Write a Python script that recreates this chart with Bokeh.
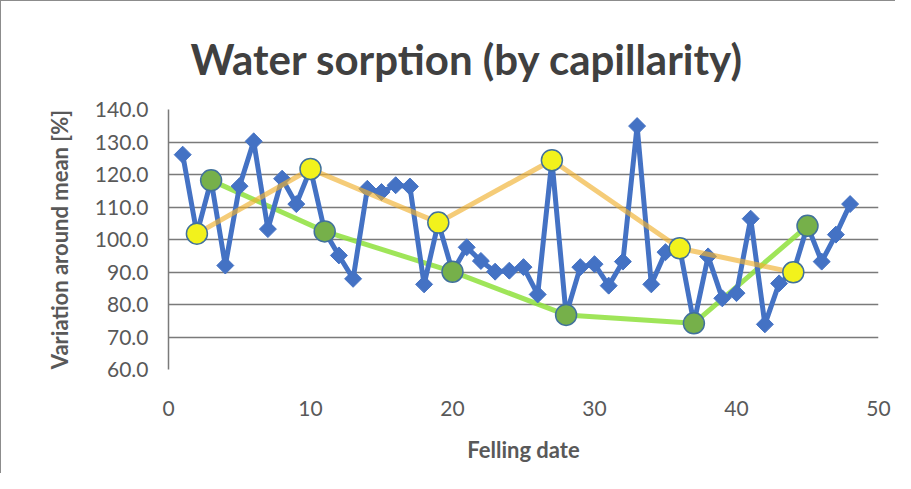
from bokeh.plotting import figure
from bokeh.models import FixedTicker, PrintfTickFormatter, Title
from bokeh.embed import file_html
from bokeh.resources import INLINE

# Data
felling = list(range(1, 49))
variation = [126.1, 101.8, 118.2, 92.0, 116.4, 130.2, 103.2, 118.7, 110.9, 121.7,
             102.5, 95.1, 87.9, 115.6, 114.6, 116.7, 116.3, 86.2, 105.2, 90.1,
             97.6, 93.4, 90.1, 90.4, 91.5, 83.1, 124.4, 76.8, 91.5, 92.4,
             85.8, 93.2, 134.9, 86.2, 96.1, 97.3, 74.2, 94.8, 81.9, 83.5,
             106.4, 73.9, 86.5, 89.9, 104.2, 93.2, 101.5, 110.9]
high_x = [2, 10, 19, 27, 36, 44]
high_y = [101.8, 121.7, 105.2, 124.4, 97.3, 89.9]
low_x = [3, 11, 20, 28, 37, 45]
low_y = [118.2, 102.5, 90.1, 76.8, 74.2, 104.2]
y_ticks = [60, 70, 80, 90, 100, 110, 120, 130, 140]
x_ticks = [0, 10, 20, 30, 40, 50]

FONT = "Lato"
TXT = "#595959"

p = figure(width=895, height=473, x_range=(0, 50), y_range=(60, 140),
           output_backend="svg", toolbar_location=None, title=None,
           min_border_left=167, min_border_right=18, min_border_top=108,
           min_border_bottom=105, background_fill_color="white",
           border_fill_color="white", outline_line_color=None)
p.styles = {"border-top": "1px solid #8c8c8c", "border-left": "1px solid #8c8c8c"}

t = Title(text="Water sorption (by capillarity)", align="left", offset=22,
          text_font=FONT, text_font_size="42px", text_font_style="bold",
          text_color="#404040", standoff=51)
p.add_layout(t, "above")

# Grid
p.xgrid.grid_line_color = None
p.ygrid.ticker = FixedTicker(ticks=y_ticks)
p.ygrid.grid_line_color = "#7a7a7a"
p.ygrid.grid_line_width = 1.5

# Axes
p.yaxis.ticker = FixedTicker(ticks=y_ticks)
p.yaxis.formatter = PrintfTickFormatter(format="%.1f")
p.xaxis.ticker = FixedTicker(ticks=x_ticks)
for ax in (p.xaxis[0], p.yaxis[0]):
    ax.major_tick_line_color = None
    ax.minor_tick_line_color = None
    ax.major_label_text_font = FONT
    ax.major_label_text_font_size = "21px"
    ax.major_label_text_color = TXT
    ax.axis_label_text_font = FONT
    ax.axis_label_text_font_size = "22px"
    ax.axis_label_text_font_style = "bold"
    ax.axis_label_text_color = TXT
p.xaxis.axis_line_color = None
p.yaxis.axis_line_color = "#7a7a7a"
p.yaxis.axis_line_width = 1.5
p.xaxis.major_label_standoff = 25
p.yaxis.major_label_standoff = 14
p.xaxis.axis_label = "Felling date"
p.yaxis.axis_label = "Variation around mean [%]"
p.xaxis.axis_label_standoff = 17
p.yaxis.axis_label_standoff = 19

# Trend lines and data
p.line(low_x, low_y, line_color="#8ee03c", line_width=5, line_alpha=0.85)
p.line(felling, variation, line_color="#4472c4", line_width=5)
p.scatter(felling, variation, marker="square", angle=0.785398, size=12,
          fill_color="#4472c4", line_color="#4472c4")
p.line(high_x, high_y, line_color="#f0b030", line_width=5, line_alpha=0.65)
p.scatter(high_x, high_y, marker="circle", size=21, fill_color="#f2f21c",
          line_color="#41719c", line_width=1.5)
p.scatter(low_x, low_y, marker="circle", size=21, fill_color="#76b04a",
          line_color="#41719c", line_width=1.5)

open("out.html", "w").write(file_html(p, INLINE))
